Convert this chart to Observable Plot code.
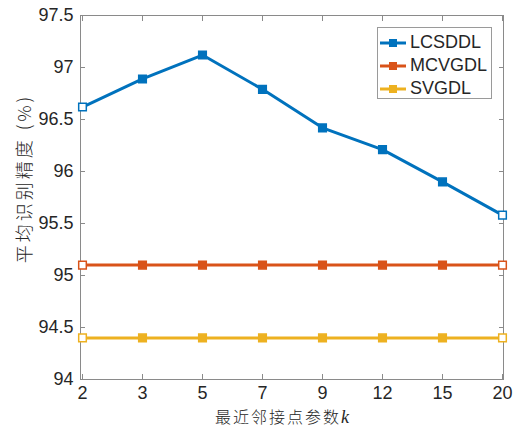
<!DOCTYPE html>
<html>
<head>
<meta charset="utf-8">
<script src="https://cdn.jsdelivr.net/npm/d3@7"></script>
<script src="https://cdn.jsdelivr.net/npm/@observablehq/plot@0.6"></script>
<style>
  html, body { margin: 0; padding: 0; background: #fff; }
  #wrap { position: relative; width: 518px; height: 429px; }
  #legend { position: absolute; left: 377px; top: 27px; width: 113px; height: 70px;
            border: 1px solid #9a9a9a; background: #fff; font-family: "Liberation Sans", Arial, sans-serif;
            font-size: 18px; color: #262626; }
  .row { position: absolute; left: 0; height: 23px; display: flex; align-items: center; }
  .row svg { margin-left: 2px; margin-right: 4px; }
</style>
</head>
<body>
<div id="wrap"><div id="legend"></div></div>
<script>
const kValues = ["2", "3", "5", "7", "9", "12", "15", "20"];
const lcsddl = [96.62, 96.89, 97.12, 96.79, 96.42, 96.21, 95.90, 95.58];
const mcvgdl = [95.10, 95.10, 95.10, 95.10, 95.10, 95.10, 95.10, 95.10];
const svgdl  = [94.40, 94.40, 94.40, 94.40, 94.40, 94.40, 94.40, 94.40];
const seriesNames = ["LCSDDL", "MCVGDL", "SVGDL"];
const seriesColors = ["#0072BD", "#D95319", "#EDB120"];
const yTicks = [94, 94.5, 95, 95.5, 96, 96.5, 97, 97.5];
const yLabel = "平均识别精度 (%)";
const xLabel = "最近邻接点参数";

const seriesValues = [lcsddl, mcvgdl, svgdl];
const data = [];
seriesValues.forEach((vals, s) => {
  vals.forEach((v, i) => data.push({
    k: kValues[i], v, series: seriesNames[s], color: seriesColors[s],
    end: i === 0 || i === vals.length - 1
  }));
});

const tickFont = {fontFamily: "Liberation Sans, Arial, sans-serif", fontSize: 18, fill: "#262626"};

const chart = Plot.plot({
  width: 518,
  height: 429,
  marginLeft: 80,
  marginRight: 15,
  marginTop: 15,
  marginBottom: 50,
  style: {fontFamily: "Liberation Sans, Arial, sans-serif", fontSize: "18px", color: "#262626", background: "#fff"},
  x: {type: "point", domain: kValues, padding: 0},
  y: {domain: [94, 97.5]},
  marks: [
    Plot.frame({stroke: "#8a8a8a"}),
    Plot.axisY({anchor: "left", ticks: yTicks, tickSize: -5, tickPadding: 12, stroke: "#8a8a8a",
      tickFormat: d => String(d), label: null, ...tickFont}),
    Plot.axisY({anchor: "right", ticks: yTicks, tickSize: -5, stroke: "#8a8a8a", tickFormat: () => "", label: null}),
    Plot.axisX({anchor: "bottom", tickSize: -5, tickPadding: 12, stroke: "#8a8a8a", label: null, ...tickFont}),
    Plot.axisX({anchor: "top", tickSize: -5, stroke: "#8a8a8a", tickFormat: () => "", label: null}),
    ...seriesNames.map((name, s) =>
      Plot.line(data.filter(d => d.series === name), {x: "k", y: "v", stroke: seriesColors[s], strokeWidth: 3})
    ),
    Plot.dot(data, {x: "k", y: "v", symbol: "square", r: 4.3,
      fill: d => d.end ? "#ffffff" : d.color, stroke: "color", strokeWidth: 1.5}),
    Plot.text([yLabel], {frameAnchor: "left", textAnchor: "middle", dx: -55, dy: -19, rotate: -90, text: d => d,
      fontFamily: "Noto Sans CJK SC", fontSize: 18, fontWeight: 300, fill: "#262626"})
  ]
});

const wrap = document.getElementById("wrap");
wrap.insertBefore(chart, wrap.firstChild);

d3.select(chart).selectAll("text").filter(function() { return this.textContent === yLabel; })
  .attr("letter-spacing", 3);

// x-axis title with italic k
const svg = d3.select(chart);
const t = svg.append("text")
  .attr("x", 282).attr("y", 419)
  .attr("text-anchor", "middle").attr("dominant-baseline", "middle")
  .attr("font-family", "Noto Sans CJK SC").attr("font-size", 16).attr("font-weight", 300)
  .attr("fill", "#262626");
t.append("tspan").attr("letter-spacing", 2).text(xLabel);
t.append("tspan").attr("font-family", "Liberation Serif, serif").attr("font-style", "italic").attr("font-size", 18).text("k");

// legend
const legend = d3.select("#legend");
seriesNames.forEach((name, s) => {
  const row = legend.append("div").attr("class", "row").style("top", (3 + s * 23) + "px");
  const sv = row.append("svg").attr("width", 26).attr("height", 12);
  sv.append("line").attr("x1", 0).attr("x2", 26).attr("y1", 6).attr("y2", 6)
    .attr("stroke", seriesColors[s]).attr("stroke-width", 3);
  sv.append("rect").attr("x", 9.5).attr("y", 2.5).attr("width", 7).attr("height", 7)
    .attr("fill", seriesColors[s]).attr("stroke", seriesColors[s]).attr("stroke-width", 1);
  row.append("span").text(name);
});
</script>
</body>
</html>
